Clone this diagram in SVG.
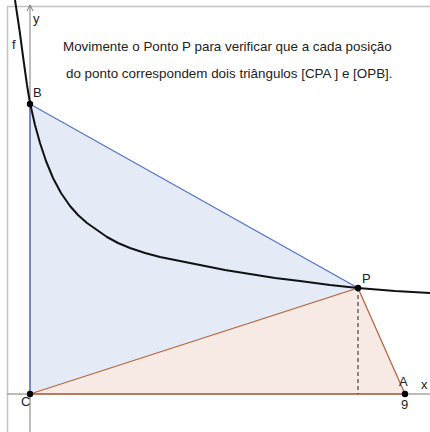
<svg xmlns="http://www.w3.org/2000/svg" width="430" height="432" viewBox="0 0 430 432">
<style>
text{font-family:"Liberation Sans",Arial,sans-serif;fill:#222}
.lbl{font-size:13px}
.msg{font-size:13.4px}
.axis{stroke:#7a7a7a;stroke-width:1;fill:none}
.pt{fill:#000}
</style>
<rect width="430" height="432" fill="#fff"/>
<g id="frame"><path d="M7.5 432V6.5H430" fill="none" stroke="#c4c4c4" stroke-width="1.5"/></g>
<g id="triangle-CPA"><polygon points="30,394 358,288 405,394" fill="#f7e9e4" stroke="none"/></g>
<g id="triangle-OPB"><polygon points="30,394 30,104 358,288" fill="#e4eaf6" stroke="none"/></g>
<g id="axes">
<path class="axis" d="M7.5 394H430"/>
<path class="axis" d="M30 432V5"/>
<path class="axis" d="M27 11L30 5L33 11"/>
</g>
<g id="connectors">
<path d="M30 394V104L358 288" fill="none" stroke="#5374c9" stroke-width="1.3"/>
<path d="M30 394L358 288L405 394Z" fill="none" stroke="#b5683f" stroke-width="1.3"/>
<path d="M358 288V394" stroke="#444" stroke-width="1.2" stroke-dasharray="4,3"/>
</g>
<g id="curve-f"><polyline points="15,0 19.5,30 23.5,60 27,85 30,103 35,125 40,143 46,161 53,178 61,193 70,206 78,215 87,223 97,230 107,237 118,243 130,248 145,253 160,257 180,261 200,265 225,270 250,274 275,278 300,281 330,285 358,288 395,291 430,293" fill="none" stroke="#111" stroke-width="2" stroke-linejoin="round"/></g>
<g id="points">
<circle class="pt" cx="30" cy="104" r="3.2"/>
<circle class="pt" cx="358" cy="288" r="3.2"/>
<circle class="pt" cx="30" cy="394" r="3.2"/>
<circle class="pt" cx="405" cy="394" r="3.2"/>
</g>
<g id="labels">
<text class="lbl" x="33" y="23">y</text>
<text class="lbl" x="12" y="49">f</text>
<text class="lbl" x="33" y="97">B</text>
<text class="lbl" x="362" y="283">P</text>
<text class="lbl" x="21" y="406">C</text>
<text class="lbl" x="399" y="386">A</text>
<text class="lbl" x="401" y="409">9</text>
<text class="lbl" x="421" y="389">x</text>
</g>
<g id="message">
<text class="msg" x="63" y="51">Movimente o Ponto P para verificar que a cada posição</text>
<text class="msg" x="66" y="78">do ponto correspondem dois triângulos [CPA ] e [OPB].</text>
</g>
</svg>
